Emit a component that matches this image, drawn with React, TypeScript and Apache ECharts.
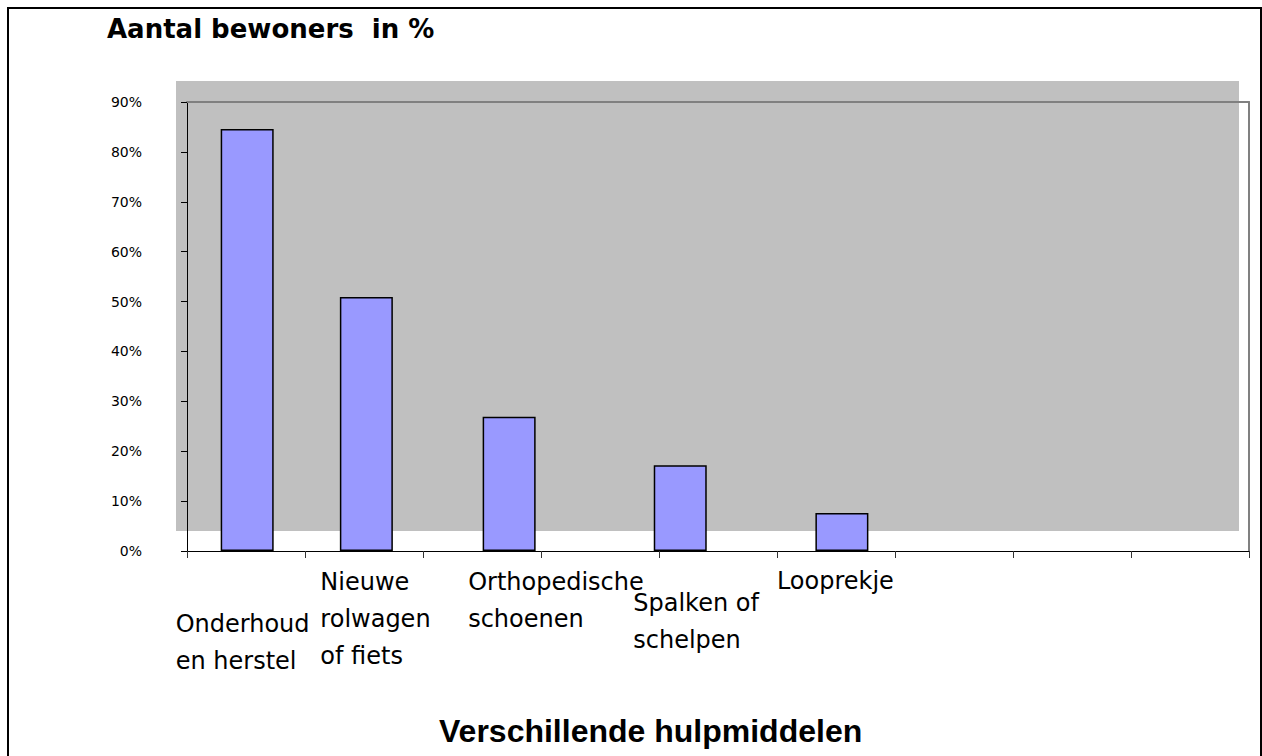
import React, { useEffect, useRef } from "react";
import * as echarts from "echarts";

// ---- data ----
const categories = [
  "Onderhoud\nen herstel",
  "Nieuwe\nrolwagen\nof fiets",
  "Orthopedische\nschoenen",
  "Spalken of\nschelpen",
  "Looprekje",
];
const values = [84.6, 50.9, 26.9, 17.2, 7.6];
// positions of the bars along the (value) x-axis, in axis units
const barPositions = [0.51, 1.52, 2.73, 4.18, 5.55];
const yTickLabels = ["0%", "10%", "20%", "30%", "40%", "50%", "60%", "70%", "80%", "90%"];

// ---- layout (pixels) ----
const labelOffsets = [
  [-71.5, 54.5],
  [-46, 12.5],
  [-41, 12.5],
  [-47, 33.5],
  [-65, 11.5],
];

export default function App() {
  const ref = useRef<HTMLDivElement>(null);

  useEffect(() => {
    if (!ref.current) return;
    const chart = echarts.init(ref.current, null, { renderer: "svg" });

    const data = values.map((v, i) => ({
      value: [barPositions[i], v],
      name: categories[i],
      label: {
        show: true,
        position: "bottom",
        distance: 0,
        align: "left",
        verticalAlign: "top",
        offset: labelOffsets[i],
        formatter: categories[i],
      },
    }));

    chart.setOption({
      animation: false,
      backgroundColor: "#ffffff",
      title: [
        {
          text: "Aantal bewoners  in %",
          left: 107,
          top: 16,
          padding: 0,
          textStyle: {
            fontFamily: "DejaVu Sans",
            fontWeight: "bold",
            fontSize: 26,
            lineHeight: 26,
            color: "#000",
          },
        },
        {
          text: "Verschillende hulpmiddelen",
          left: 439,
          top: 715,
          padding: 0,
          textStyle: {
            fontFamily: "Liberation Sans, Arial",
            fontWeight: "bold",
            fontSize: 32,
            lineHeight: 32,
            color: "#000",
          },
        },
      ],
      graphic: [
        {
          type: "rect",
          z: -10,
          silent: true,
          shape: { x: 176, y: 81, width: 1063, height: 450 },
          style: { fill: "#c0c0c0" },
        },
        {
          type: "rect",
          z: 100,
          silent: true,
          shape: { x: 8, y: 8, width: 1253, height: 800 },
          style: { fill: "none", stroke: "#000", lineWidth: 2 },
        },
      ],
      grid: { left: 187, right: 13, top: 102, bottom: 205 },
      xAxis: [
        {
          type: "value",
          min: 0,
          max: 9,
          interval: 1,
          axisLine: { show: true, onZero: false, lineStyle: { color: "#000", width: 1 } },
          axisTick: { show: true, length: 7, lineStyle: { color: "#333" } },
          axisLabel: { show: false },
          splitLine: { show: false },
        },
        {
          type: "value",
          position: "top",
          min: 0,
          max: 9,
          axisLine: { show: true, onZero: false, lineStyle: { color: "#808080", width: 2 } },
          axisTick: { show: false },
          axisLabel: { show: false },
          splitLine: { show: false },
        },
      ],
      yAxis: [
        {
          type: "value",
          min: 0,
          max: 90,
          interval: 10,
          axisLine: { show: true, onZero: false, lineStyle: { color: "#000", width: 1 } },
          axisTick: { show: true, length: 6, lineStyle: { color: "#000" } },
          axisLabel: {
            margin: 45,
            fontFamily: "DejaVu Sans",
            fontSize: 14,
            color: "#000",
            verticalAlign: "middle",
            padding: [0, 0, 10, 0],
            formatter: (v: number) => yTickLabels[Math.round(v / 10)] ?? v + "%",
          },
          splitLine: { show: false },
        },
        {
          type: "value",
          position: "right",
          min: 0,
          max: 90,
          axisLine: { show: true, onZero: false, lineStyle: { color: "#808080", width: 2 } },
          axisTick: { show: false },
          axisLabel: { show: false },
          splitLine: { show: false },
        },
      ],
      series: [
        {
          type: "bar",
          xAxisIndex: 0,
          yAxisIndex: 0,
          barWidth: 53,
          data,
          itemStyle: { color: "#9999ff", borderColor: "#000", borderWidth: 1.5 },
          label: {
            fontFamily: "DejaVu Sans",
            fontSize: 24,
            lineHeight: 37,
            color: "#000",
          },
        },
      ],
    });

    return () => chart.dispose();
  }, []);

  return (
    <div
      ref={ref}
      style={{ position: "absolute", left: 0, top: 0, width: 1262, height: 756 }}
    />
  );
}
